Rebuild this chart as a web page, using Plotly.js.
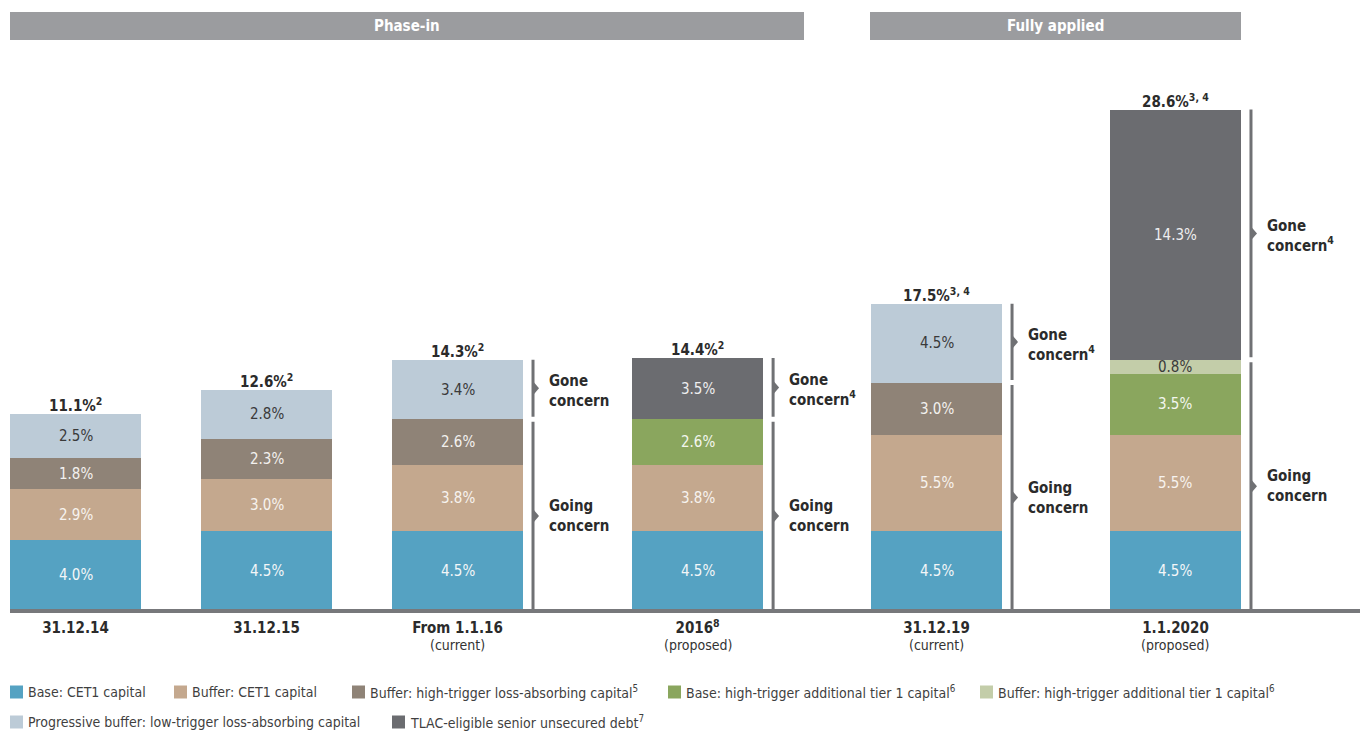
<!DOCTYPE html>
<html>
<head>
<meta charset="utf-8">
<script src="https://cdn.plot.ly/plotly-3.0.1.min.js"></script>
<style>
html,body{margin:0;padding:0;background:#ffffff;}
#chart{width:1360px;height:732px;}
</style>
</head>
<body>
<div id="chart"></div>
<script>
// ---------- data ----------
const categories = ['31.12.14', '31.12.15', 'From 1.1.16', '2016', '31.12.19', '1.1.2020'];
const categorySup = ['', '', '', '8', '', ''];
const categoryNotes = ['', '', '(current)', '(proposed)', '(current)', '(proposed)'];

const baseCET1          = [4.0, 4.5, 4.5, 4.5, 4.5, 4.5];
const bufferCET1        = [2.9, 3.0, 3.8, 3.8, 5.5, 5.5];
const bufferHighTrigger = [1.8, 2.3, 2.6, null, 3.0, null];
const baseAT1           = [null, null, null, 2.6, null, 3.5];
const bufferAT1         = [null, null, null, null, null, 0.8];
const progressiveBuffer = [2.5, 2.8, 3.4, null, 4.5, null];
const tlacDebt          = [null, null, null, 3.5, null, 14.3];

const totals     = [11.1, 12.6, 14.3, 14.4, 17.5, 28.6];
const totalNotes = ['2', '2', '2', '2', '3, 4', '3, 4'];

const seriesNames = [
  'Base: CET1 capital',
  'Buffer: CET1 capital',
  'Buffer: high-trigger loss-absorbing capital<sup>5</sup>',
  'Base: high-trigger additional tier 1 capital<sup>6</sup>',
  'Buffer: high-trigger additional tier 1 capital<sup>6</sup>',
  'Progressive buffer: low-trigger loss-absorbing capital',
  'TLAC-eligible senior unsecured debt<sup>7</sup>'
];
const seriesValues = [baseCET1, bufferCET1, bufferHighTrigger, baseAT1, bufferAT1, progressiveBuffer, tlacDebt];

const bracketed  = [false, false, true, true, true, true];
const goneNotes  = ['', '', '', '4', '4', '4'];
const phaseLabels = ['Phase-in', 'Fully applied'];

// ---------- styles / layout config ----------
const seriesColors = ['#55a2c2', '#c4a88e', '#8f8377', '#8aa65e', '#c3cda9', '#bccbd7', '#6b6c70'];
const labelColors  = ['#f3f6f8', '#f7f3ef', '#f3f1ef', '#f3f6ee', '#3a3a3a', '#3a3a3a', '#eeeeef'];
const FONT = 'DejaVu Sans Condensed, Liberation Sans, sans-serif';
const W = 1360, H = 732, MB = 122;
const PLOT_H = H - MB;
const xPos = [0, 1, 2, 3.257, 4.508, 5.759];
const BAR_W = 0.686;
const PX_X = 191, PX_Y = 17.5;
const X0 = 75.5;
const xRange = [-X0 / PX_X, (W - X0) / PX_X];
const yRange = [0, PLOT_H / PX_Y];
const phaseBands = [[10, 804], [870, 1241]];
const legendX = [10, 174, 352, 668, 980, 10, 392];
const legendRow = [0, 0, 0, 0, 0, 1, 1];
const legendRowY = [692, 722];

const px2paperX = p => p / W;
const px2paperY = p => (PLOT_H - p) / PLOT_H;

// ---------- traces ----------
const traces = seriesValues.map((vals, i) => ({
  type: 'bar',
  x: xPos,
  y: vals,
  name: seriesNames[i],
  width: BAR_W,
  marker: {color: seriesColors[i], line: {width: 0}},
  hoverinfo: 'skip',
  showlegend: false
}));

const annotations = [];
const shapes = [];

// segment labels and totals
const stackTop = [];
for (let j = 0; j < xPos.length; j++) {
  let cum = 0;
  seriesValues.forEach((vals, i) => {
    const v = vals[j];
    if (v) {
      annotations.push({
        x: xPos[j], y: cum + v / 2, xref: 'x', yref: 'y',
        text: v.toFixed(1) + '%', showarrow: false,
        font: {family: FONT, size: 15, color: labelColors[i]},
        xanchor: 'center', yanchor: 'middle'
      });
      cum += v;
    }
  });
  stackTop.push(cum);
  annotations.push({
    x: xPos[j], y: cum, xref: 'x', yref: 'y',
    text: '<b>' + totals[j].toFixed(1) + '%<sup>' + totalNotes[j] + '</sup></b>',
    showarrow: false, xanchor: 'center', yanchor: 'bottom', yshift: -3,
    font: {family: FONT, size: 15, color: '#2b2b2b'}
  });
}

// going / gone concern brackets
const lineColor = '#707174';
const gap = 2.5 / PX_Y;
const arrowW = 6 / PX_X, arrowH = 7 / PX_Y;
function addBracket(xl, y0, y1, label, shift) {
  shapes.push({type: 'line', xref: 'x', yref: 'y', x0: xl, x1: xl, y0: y0, y1: y1,
               line: {color: lineColor, width: 3}});
  const ym = (y0 + y1) / 2;
  shapes.push({type: 'path', xref: 'x', yref: 'y',
    path: `M${xl},${ym + arrowH} L${xl + arrowW},${ym} L${xl},${ym - arrowH} Z`,
    fillcolor: lineColor, line: {width: 0}});
  annotations.push({
    x: xl + 14 / PX_X, y: ym, xref: 'x', yref: 'y', showarrow: false,
    xanchor: 'left', yanchor: 'middle', align: 'left', yshift: shift,
    text: label, font: {family: FONT, size: 15, color: '#2b2b2b'}
  });
}
for (let j = 0; j < xPos.length; j++) {
  if (!bracketed[j]) continue;
  const gone = tlacDebt[j] != null ? tlacDebt[j] : progressiveBuffer[j];
  const top = stackTop[j];
  const boundary = top - gone;
  const xl = xPos[j] + BAR_W / 2 + 10 / PX_X;
  const sup = goneNotes[j] ? '<sup>' + goneNotes[j] + '</sup>' : '';
  addBracket(xl, boundary + gap, top, '<b>Gone<br>concern' + sup + '</b>', -3);
  addBracket(xl, 0, boundary - gap, '<b>Going<br>concern</b>', 0);
}

// baseline
shapes.push({type: 'line', xref: 'paper', yref: 'paper',
  x0: px2paperX(10), x1: 1, y0: px2paperY(611), y1: px2paperY(611),
  line: {color: '#77787b', width: 4}});

// phase header bands
phaseBands.forEach((b, k) => {
  shapes.push({type: 'rect', xref: 'paper', yref: 'paper',
    x0: px2paperX(b[0]), x1: px2paperX(b[1]), y0: px2paperY(40), y1: px2paperY(12),
    fillcolor: '#9b9c9f', line: {width: 0}, layer: 'below'});
  annotations.push({xref: 'paper', yref: 'paper', x: px2paperX((b[0] + b[1]) / 2), y: px2paperY(26),
    text: '<b>' + phaseLabels[k] + '</b>', showarrow: false, xanchor: 'center', yanchor: 'middle',
    font: {family: FONT, size: 15, color: '#ffffff'}});
});

// category notes (second line of x labels)
categoryNotes.forEach((n, j) => {
  if (!n) return;
  annotations.push({xref: 'x', yref: 'paper', x: xPos[j], y: px2paperY(645),
    text: n, showarrow: false, xanchor: 'center', yanchor: 'middle',
    font: {family: FONT, size: 14, color: '#333333'}});
});

// legend (drawn manually)
seriesNames.forEach((name, i) => {
  const lx = legendX[i], ly = legendRowY[legendRow[i]];
  shapes.push({type: 'rect', xref: 'paper', yref: 'paper',
    x0: px2paperX(lx), x1: px2paperX(lx + 13), y0: px2paperY(ly + 6.5), y1: px2paperY(ly - 6.5),
    fillcolor: seriesColors[i], line: {width: 0}});
  annotations.push({xref: 'paper', yref: 'paper', x: px2paperX(lx + 16), y: px2paperY(ly),
    text: name, showarrow: false, xanchor: 'left', yanchor: 'middle',
    font: {family: FONT, size: 14, color: '#3f3f3f'}});
});

const layout = {
  width: W, height: H,
  margin: {l: 0, r: 0, t: 0, b: MB, pad: 0},
  paper_bgcolor: '#ffffff', plot_bgcolor: '#ffffff',
  barmode: 'stack',
  showlegend: false,
  font: {family: FONT, size: 14, color: '#2b2b2b'},
  xaxis: {
    range: xRange, fixedrange: true, showgrid: false, zeroline: false, showline: false,
    ticks: '', tickvals: xPos,
    ticktext: categories.map((c, j) => '<b>' + c + (categorySup[j] ? '<sup>' + categorySup[j] + '</sup>' : '') + '</b>'),
    tickfont: {family: FONT, size: 15, color: '#2b2b2b'},
    ticklabelstandoff: 7
  },
  yaxis: {range: yRange, fixedrange: true, visible: false},
  shapes: shapes,
  annotations: annotations
};

Plotly.newPlot('chart', traces, layout, {displayModeBar: false, staticPlot: true});
</script>
</body>
</html>
